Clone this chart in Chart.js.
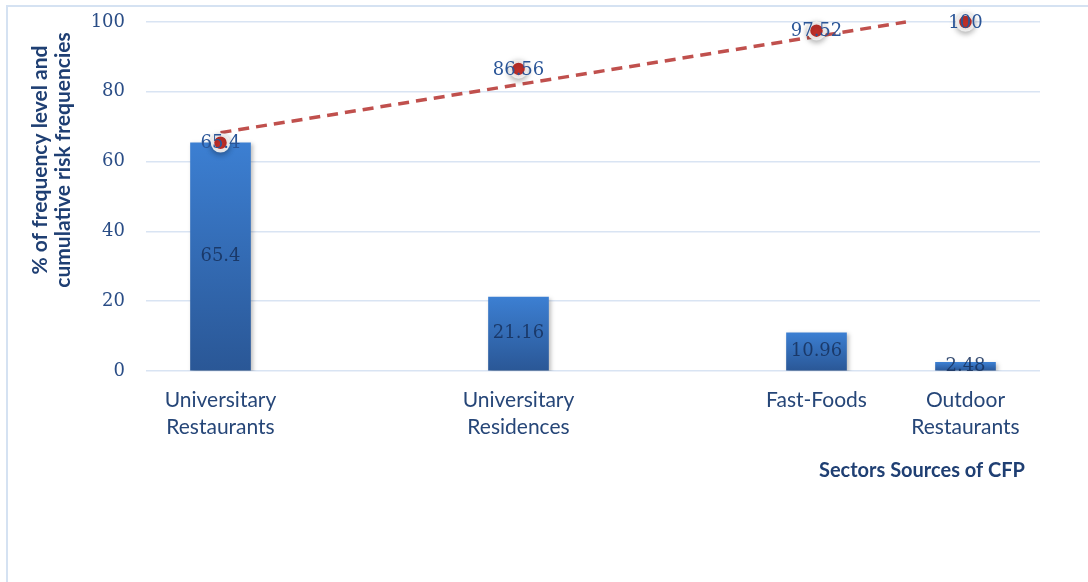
<!DOCTYPE html>
<html>
<head>
<meta charset="utf-8">
<script src="https://cdn.jsdelivr.net/npm/chart.js@4"></script>
<style>
  html, body { margin: 0; padding: 0; background: #fff; }
  #wrap { width: 1088px; height: 582px; position: relative; }
</style>
</head>
<body>
<div id="wrap"><canvas id="cfp"></canvas></div>
<script>
// ---- data ----
const categories = [['Universitary', 'Restaurants'], ['Universitary', 'Residences'], ['Fast-Foods'], ['Outdoor', 'Restaurants']];
const sectorPos  = [1, 2, 3, 3.5];          // x value of each sector (uneven spacing in the original)
const frequency  = [65.4, 21.16, 10.96, 2.48];
const cumulative = [65.4, 86.56, 97.52, 100];
const trendX     = [1, 3.3];                // dashed trend line ends
const trendY     = [68.3, 100];
const yTicks     = [0, 20, 40, 60, 80, 100];

// ---- styles ----
const NAVY = '#1f3f73';
const TICK = '#2a4d86';
const GRID = '#d9e4f3';
const RED  = '#c0504d';

const barFill = (c) => {
  const chart = c.chart, area = chart.chartArea;
  if (!area || c.type !== 'data') return '#3775c4';
  const y = chart.scales.y;
  const top = y.getPixelForValue(c.raw.y), bot = y.getPixelForValue(0);
  const g = chart.ctx.createLinearGradient(0, top, 0, bot);
  g.addColorStop(0, '#3c7fd2');
  g.addColorStop(1, '#2a5796');
  return g;
};

// soft shadows like the office chart
const shadows = {
  id: 'shadows',
  beforeDatasetDraw(chart, args) {
    const ctx = chart.ctx; ctx.save();
    if (args.index === 0) { ctx.shadowColor = 'rgba(0,0,0,0.25)'; ctx.shadowBlur = 4; ctx.shadowOffsetX = 2; ctx.shadowOffsetY = 2; }
    if (args.index === 2) { ctx.shadowColor = 'rgba(0,0,0,0.3)'; ctx.shadowBlur = 6; ctx.shadowOffsetY = 2; }
  },
  afterDatasetDraw(chart) { chart.ctx.restore(); }
};

// frame + axis titles
const decor = {
  id: 'decor',
  beforeDraw(chart) {
    const ctx = chart.ctx; ctx.save();
    ctx.strokeStyle = '#d5e2f2'; ctx.lineWidth = 2;
    ctx.beginPath(); ctx.moveTo(7, chart.height); ctx.lineTo(7, 6); ctx.lineTo(chart.width, 6); ctx.stroke();
    ctx.restore();
  },
  afterDraw(chart) {
    const ctx = chart.ctx, a = chart.chartArea;
    ctx.save();
    ctx.fillStyle = NAVY;
    ctx.textBaseline = 'middle';
    // y title, two lines, rotated
    ctx.save();
    ctx.font = 'bold 21px Lato';
    ctx.translate(a.left - 106, 160);
    ctx.rotate(-Math.PI / 2);
    ctx.textAlign = 'center';
    ctx.fillText('% of frequency level and', 0, 0);
    ctx.fillText('cumulative risk frequencies', 0, 23);
    ctx.restore();
    // x title
    ctx.font = 'bold 20px Lato';
    ctx.textAlign = 'right';
    ctx.fillText('Sectors Sources of CFP', a.right - 15, 471);
    ctx.restore();
  }
};

// value labels: middle of bars, on top of the cumulative points
const valueLabels = {
  id: 'valueLabels',
  afterDatasetsDraw(chart) {
    const ctx = chart.ctx; ctx.save();
    ctx.textAlign = 'center'; ctx.textBaseline = 'middle';
    ctx.font = '18px "DejaVu Serif"';
    chart.getDatasetMeta(0).data.forEach((bar, i) => {
      ctx.fillStyle = 'rgba(22,48,92,0.85)';
      ctx.fillText(String(frequency[i]), bar.x, (bar.y + bar.base) / 2);
    });
    chart.getDatasetMeta(2).data.forEach((pt, i) => {
      ctx.fillStyle = '#2a5597';
      ctx.fillText(String(cumulative[i]), pt.x, pt.y + 1);
    });
    ctx.restore();
  }
};

new Chart(document.getElementById('cfp'), {
  type: 'bar',
  data: {
    datasets: [
      {
        type: 'bar', order: 3,
        data: sectorPos.map((x, i) => ({ x, y: frequency[i] })),
        backgroundColor: barFill, borderWidth: 0, barThickness: 60
      },
      {
        type: 'line', order: 2,
        data: trendX.map((x, i) => ({ x, y: trendY[i] })),
        borderColor: RED, borderWidth: 3.5, borderDash: [11, 7], borderCapStyle: 'butt',
        pointRadius: 0, fill: false, clip: false
      },
      {
        type: 'line', order: 1, showLine: false, clip: false,
        data: sectorPos.map((x, i) => ({ x, y: cumulative[i] })),
        pointRadius: 8, pointBackgroundColor: '#c8312b',
        pointBorderColor: 'rgba(238,238,238,0.95)', pointBorderWidth: 3.5
      }
    ]
  },
  options: {
    responsive: true, maintainAspectRatio: false, animation: false,
    layout: { padding: { top: 22, right: 48, bottom: 0, left: 0 } },
    plugins: { legend: { display: false }, tooltip: { enabled: false } },
    scales: {
      x: {
        type: 'linear', min: 0.75, max: 3.75, offset: false,
        afterBuildTicks: (s) => { s.ticks = sectorPos.map(v => ({ value: v })); },
        afterFit: (s) => { s.height = 211; },
        grid: { display: false }, border: { display: false },
        ticks: {
          autoSkip: false, maxRotation: 0, padding: 8,
          color: '#264678', font: { family: 'Lato', size: 21, lineHeight: 1.29 },
          callback: (v) => categories[sectorPos.indexOf(v)] || ''
        }
      },
      y: {
        min: 0, max: 100,
        afterBuildTicks: (s) => { s.ticks = yTicks.map(v => ({ value: v })); },
        afterFit: (s) => { s.width = 146; s.paddingTop = 0; s.paddingBottom = 0; },
        grid: { color: GRID, lineWidth: 1.5, drawTicks: false },
        border: { display: false },
        ticks: { padding: 21, color: TICK, font: { family: 'DejaVu Serif', size: 18 } }
      }
    }
  },
  plugins: [shadows, decor, valueLabels]
});
</script>
</body>
</html>
